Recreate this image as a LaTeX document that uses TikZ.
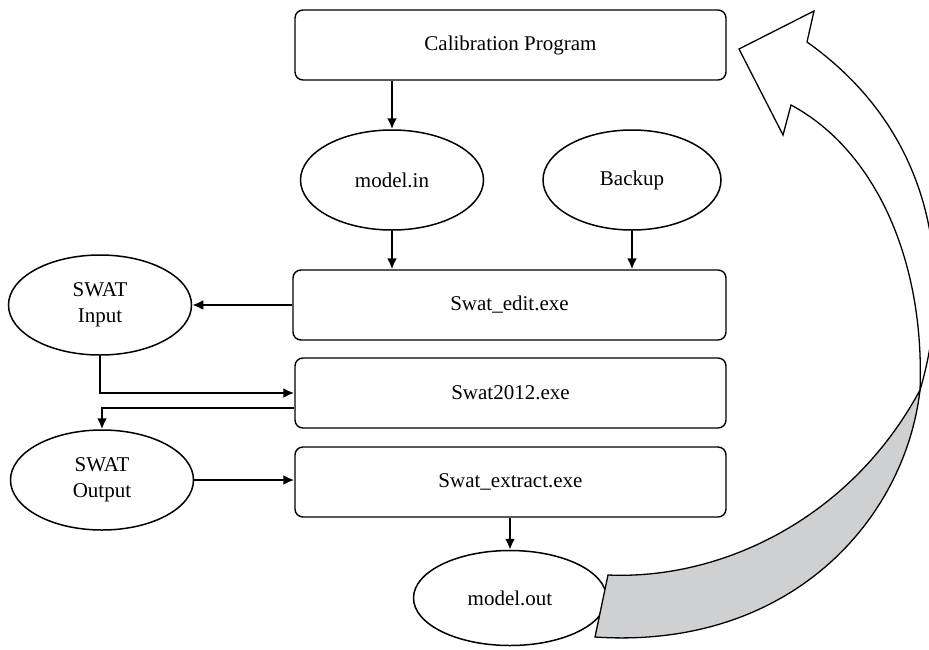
\documentclass[tikz,border=0pt]{standalone}
\usepackage{fontspec}
\setmainfont{Liberation Serif}
\usepackage{tikz}
\usetikzlibrary{arrows.meta, shapes}
\definecolor{bandgray}{RGB}{207,208,210}

\begin{document}
\begin{tikzpicture}
[> = {Latex[length=11pt, width=10pt]}, x=1pt, y=-1pt,
font=\fontsize{21}{26}\selectfont,
block/.style ={rectangle, draw=black, line width=1.4pt, rounded corners=8pt,
align=center, minimum width=431pt, minimum height=70pt},
file/.style ={ellipse, draw=black, line width=1.5pt, align=center,
inner sep=0pt, minimum width=183pt, minimum height=100pt},
link/.style ={->, line width=2.6pt},
band/.style ={draw=black, line width=1.3pt, line join=miter},
]
\useasboundingbox (0,0) rectangle (929,649);

% row 1
\node [block] (cal) at (510.5,45) {Calibration Program};

% row 2
\node [file] (min) at (392,180) {model.in};
\node [file, minimum width=178pt] (bak) at (632,180) {Backup};

% row 3
\node [file] (sin) at (100,305) {SWAT\\Input};
\node [block, minimum width=433pt] (edit) at (509.5,305) {Swat\_edit.exe};

% row 4
\node [block] (run) at (510.5,393) {Swat2012.exe};

% row 5
\node [file] (sout) at (102,480) {SWAT\\Output};
\node [block] (ext) at (510.5,482) {Swat\_extract.exe};

% row 6
\node [file, minimum width=193pt, minimum height=95pt] (mout) at (510,598) {model.out};

 \draw[link] (cal.south -| min) -- (min);
 \draw[link] (min) -- (min |- edit.north);
 \draw[link] (bak) -- (bak |- edit.north);
 \draw[link] (edit.west) -- (sin);
 \draw[link] (sin) |- (run.west);
 \draw[link] ([yshift=-15pt]run.west) -| (sout);
 \draw[link] (sout) -- (sout -| ext.west);
 \draw[link] (ext.south -| mout) -- (mout);

% back side of the loop arrow, then its front
\begin{scope}
\clip (0,0) rectangle (929,649);
\filldraw[band, fill=bandgray] (608,575) .. controls (720,580) and (850,520) .. (920,390)
 .. controls (905,520) and (790,650) .. (595,637) -- cycle;
\filldraw[band, fill=white] (920,390) .. controls (950,290) and (945,140) .. (807,42)
 -- (814,11) -- (739,49) -- (783,135) -- (791,105)
 .. controls (875,150) and (925,260) .. (920,390) -- cycle;
\end{scope}
\end{tikzpicture}
\end{document}
